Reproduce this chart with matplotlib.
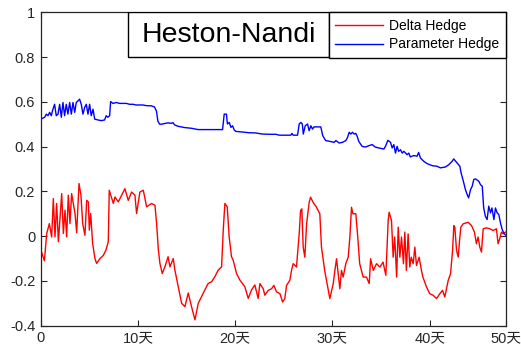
import matplotlib
matplotlib.use("Agg")
import matplotlib.pyplot as plt
from matplotlib.patches import Rectangle

plt.rcParams['font.family'] = ['Liberation Sans', 'Noto Sans CJK SC', 'DejaVu Sans']

series_names = ["Delta Hedge", "Parameter Hedge"]
title_text = "Heston-Nandi"

red_day = [0, 0.38, 0.62, 0.89, 1.13, 1.3, 1.47, 1.64, 1.82, 2.16, 2.33, 2.5, 2.67, 2.84, 3.01, 3.18,
           3.53, 3.7, 3.94, 4.14, 4.32, 4.55, 4.73, 4.9, 5.0, 5.14, 5.34, 5.58, 5.75, 6.1, 6.44, 6.71,
           6.95, 7.05, 7.47, 7.64, 7.98, 8.32, 8.66, 9.0, 9.35, 9.69, 9.86, 10.2, 10.55, 10.89, 11.4,
           11.75, 11.92, 12.1, 12.26, 12.5, 12.77, 13.1, 13.29, 13.63, 13.8, 14.14, 14.49, 14.83, 15.17,
           15.51, 15.86, 16.2, 16.54, 16.88, 17.23, 17.57, 17.91, 18.25, 18.6, 18.77, 18.94, 19.18,
           19.38, 19.62, 19.79, 20.14, 20.48, 20.99, 21.34, 21.68, 22.02, 22.36,
           22.54, 22.88, 23.05, 23.4, 23.74, 23.98, 24.25, 24.6, 24.87, 25.1, 25.28, 25.62, 25.79,
           25.96, 26.3, 26.58, 26.72, 26.85, 26.99, 27.16, 27.34, 27.61, 27.75, 28.0, 28.36, 28.7,
           28.87, 29.2, 29.39, 29.73, 30.08, 30.25, 30.42, 30.76, 30.93, 31.1, 31.37, 31.62, 31.79,
           31.96, 32.1, 32.4, 32.6, 32.8, 33.16, 33.5, 33.78, 33.92, 34.2, 34.53, 34.88, 35.2, 35.49,
           35.73, 35.83, 36.07, 36.24, 36.4, 36.6, 36.76, 36.93, 37.1, 37.3, 37.44, 37.6, 37.78,
           37.95, 38.1, 38.3, 38.47, 38.64, 38.91, 39.15, 39.3, 39.67, 40.0, 40.35, 40.7, 41.04,
           41.32, 41.55, 41.9, 42.14, 42.35, 42.48, 42.58, 42.76, 42.93, 43.1, 43.2, 43.43, 43.95,
           44.3, 44.6, 44.8, 44.97, 45.15, 45.32, 45.5, 45.84, 46.18, 46.52, 46.86, 47.03, 47.2,
           47.37, 47.55, 47.79]
red_val = [-0.06, -0.11, 0.012, 0.056, -0.004, 0.168, -0.003, 0.146, -0.025, 0.19, 0.012, 0.116,
           -0.003, 0.183, 0.056, 0.19, 0.101, 0.015, 0.235, 0.183, 0.056, 0.004, 0.16, 0.153, 0.027,
           0.101, -0.033, -0.1, -0.122, -0.1, -0.086, -0.062, -0.025, 0.205, 0.146, 0.175, 0.153,
           0.183, 0.212, 0.16, 0.197, 0.183, 0.101, 0.197, 0.205, 0.131, 0.146, 0.138, 0.056, -0.062,
           -0.122, -0.167, -0.137, -0.092, -0.137, -0.1, -0.152, -0.226, -0.3, -0.315, -0.254, -0.315,
           -0.374, -0.3, -0.27, -0.24, -0.211, -0.204, -0.181, -0.152, -0.137, 0.027, 0.146, 0.131,
           -0.003, -0.092, -0.107, -0.167, -0.196, -0.226, -0.278, -0.24, -0.218, -0.278,
           -0.212, -0.235, -0.264, -0.242, -0.235, -0.22, -0.249, -0.257, -0.294, -0.279, -0.22,
           -0.197, -0.153, -0.123, -0.138, 0.01, 0.114, 0.122, -0.049, -0.094, 0.055, 0.152, 0.174,
           0.152, 0.129, 0.1, -0.049, -0.153, -0.198, -0.279, -0.212, -0.153, -0.101, -0.235, -0.153,
           -0.183, -0.123, -0.094, -0.004, 0.129, 0.1, 0.1, -0.004, -0.123, -0.183, -0.183, -0.212,
           -0.101, -0.153, -0.123, -0.138, -0.116, -0.175, 0.07, 0.107, 0.07, -0.094, -0.004, -0.183,
           0.04, -0.094, -0.004, -0.123, 0.018, -0.153, 0.01, -0.138, -0.094, -0.123, -0.049, -0.131,
           -0.094, -0.153, -0.183, -0.227, -0.257, -0.264, -0.279, -0.257, -0.242, -0.272, -0.198,
           -0.168, -0.064, 0.047, 0.04, -0.064, -0.094, -0.004, 0.04, 0.055, 0.062, 0.047, 0.018,
           -0.034, -0.004, -0.049, -0.071, 0.033, 0.037, 0.033, 0.025, 0.033, -0.034, -0.012, 0.018,
           0.01, 0.018]

blue_day = [0, 0.02, 0.41, 0.58, 0.75, 0.92, 1.09, 1.26, 1.43, 1.6, 1.78, 1.95, 2.12, 2.29, 2.46,
            2.63, 2.8, 2.98, 3.15, 3.32, 3.5, 3.66, 3.83, 4.0, 4.17, 4.35, 4.52, 4.69, 4.86, 5.03,
            5.2, 5.38, 5.55, 5.89, 6.23, 6.57, 6.74, 6.9, 7.09, 7.19, 7.43, 7.77, 8.1, 8.46, 8.8,
            9.14, 9.5, 9.8, 10.17, 10.5, 10.86, 11.37, 11.7, 11.9, 12.05, 12.23, 12.4, 12.74, 13.08,
            13.43, 13.6, 13.77, 14.1, 14.8, 15.48, 16.2, 18.7, 18.87, 19.1, 19.2, 19.39, 19.56,
            19.73, 19.9, 20.07, 20.76, 21.44, 22.1, 22.8, 23.5, 24.18, 24.53, 25.72, 25.83, 25.96,
            26.41, 26.58, 26.75, 26.9, 27.0, 27.2, 27.44, 27.6, 27.78, 27.95, 28.1, 28.8, 29.0, 29.3,
            29.66, 30.18, 30.35, 30.69, 31.03, 31.38, 31.55, 31.72, 31.89, 32.06, 32.23, 32.4,
            32.54, 32.71, 33.05, 33.4, 33.74, 34.08, 34.4, 34.77, 35.28, 35.45, 35.7, 35.97, 36.14,
            36.31, 36.48, 36.65, 36.8, 37.0, 37.17, 37.34, 37.68, 37.85, 38.0, 38.36, 38.7, 38.86,
            39.05, 39.4, 39.73, 40.25, 40.76, 41.1, 41.62, 41.96, 42.3, 42.47, 42.82, 43.1, 43.23,
            43.5, 43.67, 43.85, 44.0, 44.2, 44.37, 44.53, 44.7, 45.05, 45.22, 45.4, 45.55, 45.72,
            45.9, 46.07, 46.25, 46.4, 46.6, 46.76, 46.93, 47.1, 47.27, 47.45, 47.6, 47.79]
blue_val = [-0.145, 0.523, 0.531, 0.545, 0.538, 0.553, 0.538, 0.567, 0.589, 0.538, 0.545, 0.589,
            0.531, 0.597, 0.538, 0.589, 0.545, 0.597, 0.545, 0.597, 0.553, 0.597, 0.604, 0.612,
            0.589, 0.545, 0.575, 0.589, 0.545, 0.589, 0.538, 0.567, 0.523, 0.519, 0.516, 0.519,
            0.538, 0.531, 0.538, 0.601, 0.593, 0.597, 0.593, 0.593, 0.593, 0.589, 0.589, 0.586,
            0.586, 0.586, 0.583, 0.582, 0.577, 0.559, 0.514, 0.5, 0.5, 0.503, 0.506, 0.504, 0.507,
            0.497, 0.491, 0.485, 0.482, 0.476, 0.476, 0.545, 0.545, 0.501, 0.508, 0.486, 0.493,
            0.474, 0.468, 0.465, 0.462, 0.461, 0.456, 0.455, 0.455, 0.451, 0.451, 0.459, 0.451,
            0.451, 0.501, 0.508, 0.501, 0.456, 0.493, 0.501, 0.471, 0.493, 0.478, 0.488, 0.488,
            0.449, 0.427, 0.424, 0.419, 0.427, 0.416, 0.419, 0.427, 0.441, 0.464, 0.456, 0.464,
            0.456, 0.459, 0.446, 0.423, 0.401, 0.398, 0.404, 0.409, 0.398, 0.394, 0.389, 0.401,
            0.428, 0.419, 0.394, 0.409, 0.371, 0.401, 0.379, 0.386, 0.371, 0.379, 0.364, 0.371,
            0.354, 0.36, 0.357, 0.374, 0.349, 0.334, 0.324, 0.315, 0.312, 0.305, 0.309, 0.319,
            0.334, 0.345, 0.327, 0.312, 0.282, 0.238, 0.208, 0.186, 0.171, 0.208, 0.223, 0.253,
            0.256, 0.245, 0.23, 0.223, 0.126, 0.089, 0.074, 0.134, 0.104, 0.126, 0.074, 0.126,
            0.104, 0.097, 0.06, 0.03, 0.015, 0.005]

x_ticks = [0, 10, 20, 30, 40, 47.8]
x_tick_labels = ["0", "10天", "20天", "30天", "40天", "50天"]
y_ticks = [-0.4, -0.2, 0, 0.2, 0.4, 0.6, 0.8, 1.0]
y_tick_labels = ["-0.4", "-0.2", "0", "0.2", "0.4", "0.6", "0.8", "1"]

fig = plt.figure(figsize=(5.21, 3.51), dpi=100)
ax = fig.add_axes([0.0781, 0.0721, 0.8923, 0.8929])

ax.plot(red_day, red_val, color="#ff0000", lw=1.0, label=series_names[0])
ax.plot(blue_day, blue_val, color="#0000ff", lw=1.0, label=series_names[1])

ax.set_xlim(0, 47.8)
ax.set_ylim(-0.4, 1.0)
ax.set_xticks(x_ticks)
ax.set_xticklabels(x_tick_labels)
ax.set_yticks(y_ticks)
ax.set_yticklabels(y_tick_labels)
ax.tick_params(direction="in", length=4, width=0.8, colors="#262626", labelsize=10.5,
               top=True, right=True, pad=4)
for s in ax.spines.values():
    s.set_color("#262626")
    s.set_linewidth(0.9)

# title box
ax.add_patch(Rectangle((0.1871, 0.8583), 0.6208 - 0.1871, 1 - 0.8583, transform=ax.transAxes,
                       facecolor="white", edgecolor="black", lw=1.0, zorder=5))
ax.text(0.404, 0.927, title_text, transform=ax.transAxes, ha="center", va="center",
        fontsize=20.5, zorder=6)

leg = ax.legend(loc="upper right", bbox_to_anchor=(1.0, 1.0), borderaxespad=0, fancybox=False,
                edgecolor="black", framealpha=1, fontsize=10, handlelength=3.45,
                handletextpad=0.45, labelspacing=0.35, borderpad=0.45)
leg.get_frame().set_linewidth(1.0)
leg.set_zorder(7)

fig.savefig("out.png", dpi=100)
